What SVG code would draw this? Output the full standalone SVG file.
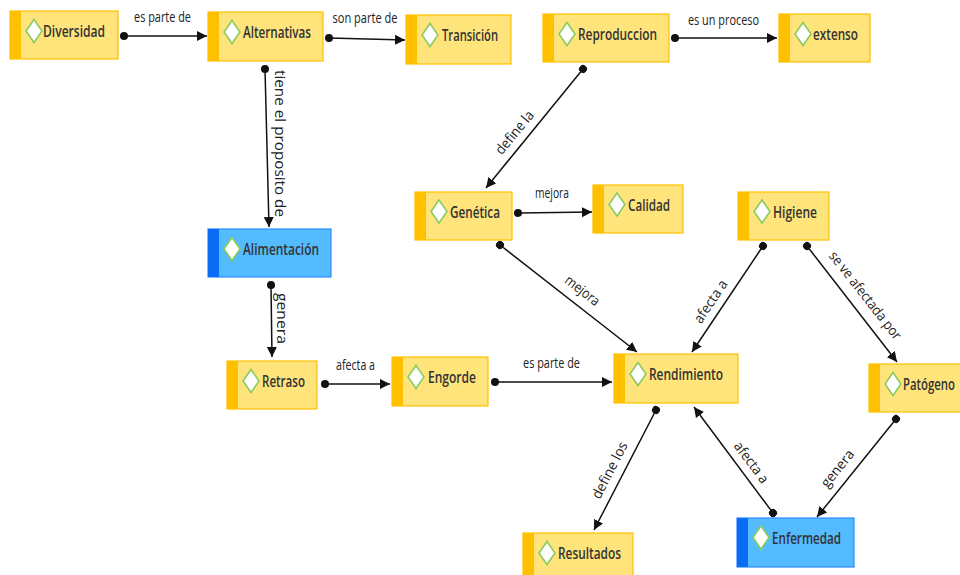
<svg xmlns="http://www.w3.org/2000/svg" width="960" height="575" viewBox="0 0 960 575">
<defs>
<style>
.ny rect.b{fill:#FFE47C;stroke:#FFC000;stroke-width:1.2}
.ny rect.s{fill:#FFC000}
.nb rect.b{fill:#55BBFF;stroke:#2E8BFF;stroke-width:1.2}
.nb rect.s{fill:#0A6BF5}
.ic{fill:#fff;stroke:#8CCB5E;stroke-width:1.6}
.t{font-family:"Open Sans","Liberation Sans",sans-serif;font-size:17px;font-weight:600;fill:#333}
.l{font-family:"Open Sans","Liberation Sans",sans-serif;font-size:14px;fill:#222}
.c line{stroke:#111;stroke-width:1.5;marker-start:url(#dot);marker-end:url(#arr)}
</style>
<marker id="arr" viewBox="0 0 10 10" refX="10" refY="5" markerWidth="10" markerHeight="11" markerUnits="userSpaceOnUse" orient="auto"><path d="M0,0 L10,5 L0,10 z" fill="#111"/></marker>
<marker id="dot" viewBox="0 0 10 10" refX="5" refY="5" markerWidth="8" markerHeight="8" markerUnits="userSpaceOnUse" orient="auto"><circle cx="5" cy="5" r="5" fill="#111"/></marker>
</defs>
<rect width="960" height="575" fill="#fff"/>

<g id="connectors" class="c">
<line x1="124" y1="36" x2="207" y2="36"/>
<line x1="329" y1="38" x2="405" y2="40"/>
<line x1="675" y1="38" x2="777" y2="38"/>
<line x1="265" y1="69" x2="269" y2="227"/>
<line x1="583" y1="69" x2="486" y2="188"/>
<line x1="518" y1="213" x2="592" y2="212"/>
<line x1="500" y1="245" x2="637" y2="352"/>
<line x1="763" y1="246" x2="692" y2="352"/>
<line x1="807" y1="246" x2="897" y2="362"/>
<line x1="271" y1="285" x2="272" y2="357"/>
<line x1="325" y1="384" x2="390" y2="384"/>
<line x1="495" y1="382" x2="612" y2="382"/>
<line x1="656" y1="410" x2="594" y2="530"/>
<line x1="773" y1="513" x2="694" y2="407"/>
<line x1="896" y1="419" x2="817" y2="517"/>
</g>

<g id="labels">
<text class="l" x="162.5" y="22" text-anchor="middle" textLength="57" lengthAdjust="spacingAndGlyphs">es parte de</text>
<text class="l" x="365" y="23" text-anchor="middle" textLength="65" lengthAdjust="spacingAndGlyphs">son parte de</text>
<text class="l" x="723.5" y="25" text-anchor="middle" textLength="71" lengthAdjust="spacingAndGlyphs">es un proceso</text>
<text class="l" x="552" y="198" text-anchor="middle" textLength="34" lengthAdjust="spacingAndGlyphs">mejora</text>
<text class="l" x="355.5" y="370" text-anchor="middle" textLength="39" lengthAdjust="spacingAndGlyphs">afecta a</text>
<text class="l" x="551.5" y="368" text-anchor="middle" textLength="57" lengthAdjust="spacingAndGlyphs">es parte de</text>
<text class="l" transform="translate(280.5,143.5) rotate(90)" text-anchor="middle" dominant-baseline="central" textLength="147" lengthAdjust="spacingAndGlyphs">tiene el proposito de</text>
<text class="l" transform="translate(282.5,318.5) rotate(90)" text-anchor="middle" dominant-baseline="central" textLength="51" lengthAdjust="spacingAndGlyphs">genera</text>
<text class="l" transform="translate(514,132) rotate(-50.8)" text-anchor="middle" dominant-baseline="central" textLength="52" lengthAdjust="spacingAndGlyphs">define la</text>
<text class="l" transform="translate(583,290) rotate(38)" text-anchor="middle" dominant-baseline="central" textLength="40" lengthAdjust="spacingAndGlyphs">mejora</text>
<text class="l" transform="translate(710,301) rotate(-56.2)" text-anchor="middle" dominant-baseline="central" textLength="49" lengthAdjust="spacingAndGlyphs">afecta a</text>
<text class="l" transform="translate(866,295) rotate(51.9)" text-anchor="middle" dominant-baseline="central" textLength="108" lengthAdjust="spacingAndGlyphs">se ve afectada por</text>
<text class="l" transform="translate(609,470) rotate(-62.7)" text-anchor="middle" dominant-baseline="central" textLength="62" lengthAdjust="spacingAndGlyphs">define los</text>
<text class="l" transform="translate(752,462) rotate(53.3)" text-anchor="middle" dominant-baseline="central" textLength="48" lengthAdjust="spacingAndGlyphs">afecta a</text>
<text class="l" transform="translate(837,468) rotate(-51.1)" text-anchor="middle" dominant-baseline="central" textLength="44" lengthAdjust="spacingAndGlyphs">genera</text>
</g>

<g id="n-diversidad" class="ny"><rect class="b" x="10" y="11" width="108" height="48"/><rect class="s" x="10" y="11" width="11" height="48"/><path class="ic" d="M34,19.5 L42,31 L34,42.5 L26,31 z"/><text class="t" x="43" y="37" textLength="62" lengthAdjust="spacingAndGlyphs">Diversidad</text></g>
<g id="n-alternativas" class="ny"><rect class="b" x="208" y="12" width="115" height="49"/><rect class="s" x="208" y="12" width="11" height="49"/><path class="ic" d="M232,20.5 L240,32 L232,43.5 L224,32 z"/><text class="t" x="243" y="38" textLength="68" lengthAdjust="spacingAndGlyphs">Alternativas</text></g>
<g id="n-transicion" class="ny"><rect class="b" x="406" y="15" width="105" height="49"/><rect class="s" x="406" y="15" width="11" height="49"/><path class="ic" d="M430,23.5 L438,35 L430,46.5 L422,35 z"/><text class="t" x="442" y="41" textLength="56" lengthAdjust="spacingAndGlyphs">Transición</text></g>
<g id="n-reproduccion" class="ny"><rect class="b" x="543" y="14" width="126" height="48"/><rect class="s" x="543" y="14" width="11" height="48"/><path class="ic" d="M567,22.5 L575,34 L567,45.5 L559,34 z"/><text class="t" x="578" y="40" textLength="79" lengthAdjust="spacingAndGlyphs">Reproduccion</text></g>
<g id="n-extenso" class="ny"><rect class="b" x="779" y="14" width="91" height="48"/><rect class="s" x="779" y="14" width="11" height="48"/><path class="ic" d="M803,22.5 L811,34 L803,45.5 L795,34 z"/><text class="t" x="813" y="40" textLength="45" lengthAdjust="spacingAndGlyphs">extenso</text></g>
<g id="n-genetica" class="ny"><rect class="b" x="415" y="192" width="97" height="48"/><rect class="s" x="415" y="192" width="11" height="48"/><path class="ic" d="M439,200 L447,211.5 L439,223 L431,211.5 z"/><text class="t" x="450" y="218" textLength="50" lengthAdjust="spacingAndGlyphs">Genética</text></g>
<g id="n-calidad" class="ny"><rect class="b" x="593" y="185" width="90" height="48"/><rect class="s" x="593" y="185" width="11" height="48"/><path class="ic" d="M617,193 L625,204.5 L617,216 L609,204.5 z"/><text class="t" x="628" y="211" textLength="42" lengthAdjust="spacingAndGlyphs">Calidad</text></g>
<g id="n-higiene" class="ny"><rect class="b" x="738" y="192" width="91" height="48"/><rect class="s" x="738" y="192" width="11" height="48"/><path class="ic" d="M762,200 L770,211.5 L762,223 L754,211.5 z"/><text class="t" x="773" y="218" textLength="44" lengthAdjust="spacingAndGlyphs">Higiene</text></g>
<g id="n-alimentacion" class="nb"><rect class="b" x="208" y="229" width="123" height="48"/><rect class="s" x="208" y="229" width="11" height="48"/><path class="ic" d="M232,237.5 L240,249 L232,260.5 L224,249 z"/><text class="t" x="243" y="255" textLength="76" lengthAdjust="spacingAndGlyphs">Alimentación</text></g>
<g id="n-retraso" class="ny"><rect class="b" x="227" y="361" width="90" height="48"/><rect class="s" x="227" y="361" width="11" height="48"/><path class="ic" d="M251,369.5 L259,381 L251,392.5 L243,381 z"/><text class="t" x="262" y="387" textLength="43" lengthAdjust="spacingAndGlyphs">Retraso</text></g>
<g id="n-engorde" class="ny"><rect class="b" x="392" y="357" width="96" height="49"/><rect class="s" x="392" y="357" width="11" height="49"/><path class="ic" d="M416,365.5 L424,377 L416,388.5 L408,377 z"/><text class="t" x="428" y="383" textLength="48" lengthAdjust="spacingAndGlyphs">Engorde</text></g>
<g id="n-rendimiento" class="ny"><rect class="b" x="614" y="354" width="124" height="49"/><rect class="s" x="614" y="354" width="11" height="49"/><path class="ic" d="M638,362.5 L646,374 L638,385.5 L630,374 z"/><text class="t" x="649" y="380" textLength="74" lengthAdjust="spacingAndGlyphs">Rendimiento</text></g>
<g id="n-patogeno" class="ny"><rect class="b" x="869" y="364" width="100" height="48"/><rect class="s" x="869" y="364" width="11" height="48"/><path class="ic" d="M893,372.5 L901,384 L893,395.5 L885,384 z"/><text class="t" x="903" y="390" textLength="52" lengthAdjust="spacingAndGlyphs">Patógeno</text></g>
<g id="n-enfermedad" class="nb"><rect class="b" x="737" y="518" width="117" height="49"/><rect class="s" x="737" y="518" width="11" height="49"/><path class="ic" d="M761,526 L769,537.5 L761,549 L753,537.5 z"/><text class="t" x="772" y="544" textLength="69" lengthAdjust="spacingAndGlyphs">Enfermedad</text></g>
<g id="n-resultados" class="ny"><rect class="b" x="523" y="533" width="110" height="48"/><rect class="s" x="523" y="533" width="11" height="48"/><path class="ic" d="M547,541.5 L555,553 L547,564.5 L539,553 z"/><text class="t" x="558" y="559" textLength="63" lengthAdjust="spacingAndGlyphs">Resultados</text></g>
</svg>
